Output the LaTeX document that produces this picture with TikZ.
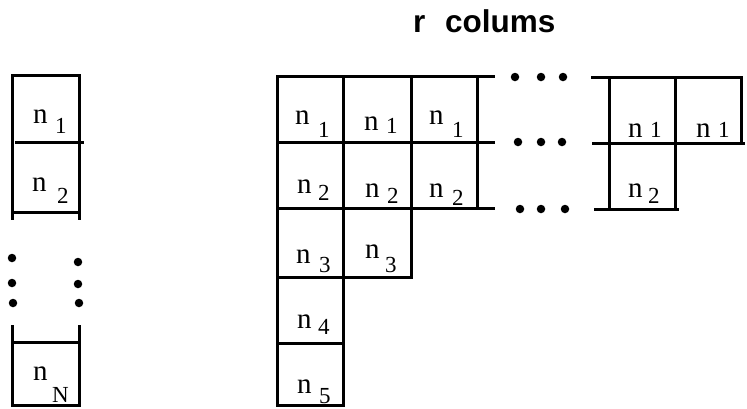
\documentclass[tikz,border=0pt]{standalone}
\usepackage{fontspec}
\setmainfont{Liberation Serif}
\newfontfamily\titlefont{Liberation Sans}
\begin{document}
\begin{tikzpicture}[x=1pt,y=-1pt,
  grid/.style={line width=3pt,line cap=rect},
  dotmark/.style={fill=black,circle,inner sep=0pt,minimum size=8.5pt},
  nlab/.style={anchor=base west,inner sep=0pt,font=\fontsize{29}{31}\selectfont},
  dlab/.style={anchor=base west,inner sep=0pt,font=\fontsize{23}{25}\selectfont},
  ttl/.style={anchor=base west,inner sep=0pt,font=\titlefont\bfseries\fontsize{31.5}{33}\selectfont}]
\useasboundingbox (0,0) rectangle (747,408);
\newcommand\lab[6]{\node[nlab] (#1n) at (#2,#3) {n}; \node[dlab] (#1d) at (#4,#5) {#6};}
% title
\node[ttl] (tr) at (413,32) {r};
\node[ttl] (tc) at (445,32) {colums};
% left column
\draw[grid] (12,218) -- (12,75) -- (79,75) -- (79,218);
\draw[grid] (16,142) -- (82,142);
\draw[grid] (12,212) -- (79,212);
\draw[grid] (12,326) -- (12,405) -- (79,405) -- (79,326);
\draw[grid] (12,342) -- (79,342);
\foreach \p [count=\i] in {(12,258),(12,283),(13,303),(78,262),(78,284),(79,303)}
  \node[dotmark] (ld\i) at \p {};
\lab{a1}{33}{123}{55}{133}{1}
\lab{a2}{32}{191}{57}{203}{2}
\lab{aN}{33}{380}{52}{402}{N}
% main grid
\draw[grid] (277,405) -- (277,76) -- (493,76);
\draw[grid] (277,142) -- (493,142);
\draw[grid] (277,208) -- (493,208);
\draw[grid] (343,76) -- (343,405);
\draw[grid] (411,76) -- (411,277);
\draw[grid] (477,76) -- (477,208);
\draw[grid] (277,277) -- (411,277);
\draw[grid] (277,343) -- (343,343);
\draw[grid] (277,405) -- (343,405);
\foreach \p [count=\i] in {(515,77),(541,77),(563,77),(518,142),(541,142),(562,142),(520,209),(541,209),(565,209)}
  \node[dotmark] (md\i) at \p {};
\lab{b11}{295}{124}{318}{137}{1}
\lab{b12}{364}{130}{386}{133}{1}
\lab{b13}{429}{124}{452}{137}{1}
\lab{b21}{297}{193}{318}{200}{2}
\lab{b22}{365}{197}{387}{203}{2}
\lab{b23}{429}{197}{452}{205}{2}
\lab{b31}{296}{263}{319}{272}{3}
\lab{b32}{365}{258}{385}{272}{3}
\lab{b41}{297}{328}{318}{334}{4}
\lab{b51}{297}{393}{319}{403}{5}
% right part
\draw[grid] (592,77) -- (741,77) -- (741,143);
\draw[grid] (593,143) -- (743,143);
\draw[grid] (595,209) -- (677,209);
\draw[grid] (609,77) -- (609,209);
\draw[grid] (675,77) -- (675,209);
\lab{c11}{628}{137}{650}{137}{1}
\lab{c12}{696}{137}{718}{137}{1}
\lab{c21}{628}{197}{648}{203}{2}
\end{tikzpicture}
\end{document}
